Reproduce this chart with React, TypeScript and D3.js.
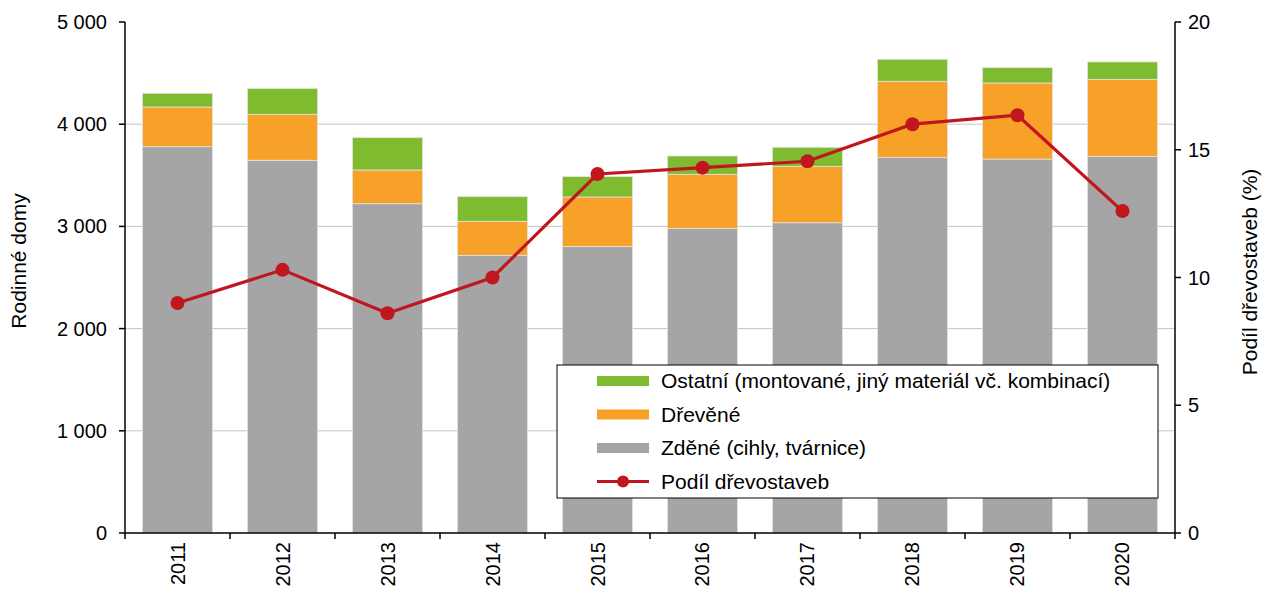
import React from "react";
import * as d3 from "d3";

const years = ["2011", "2012", "2013", "2014", "2015", "2016", "2017", "2018", "2019", "2020"];
const zdene = [3780, 3647, 3222, 2717, 2802, 2981, 3036, 3676, 3659, 3686];
const drevene = [388, 450, 330, 333, 486, 529, 552, 744, 744, 753];
const ostatni = [134, 251, 316, 241, 199, 179, 186, 215, 150, 170];
const podil = [9.0, 10.3, 8.6, 10.0, 14.05, 14.3, 14.55, 16.0, 16.35, 12.6];
const leftTicks = [0, 1000, 2000, 3000, 4000, 5000];
const rightTicks = [0, 5, 10, 15, 20];

const seriesKeys = ["zdene", "drevene", "ostatni"];
const colors: Record<string, string> = {
  zdene: "#a5a5a5",
  drevene: "#f8a128",
  ostatni: "#7fbb2e"
};
const lineColor = "#c0171f";
const font = "'Liberation Sans', Arial, sans-serif";
const fs = 21;

function App() {
  const w = 1262,
    h = 592,
    margin = { top: 22, bottom: 59, left: 125, right: 87 };
  const width = w - margin.left - margin.right,
    height = h - margin.top - margin.bottom;

  const rows = years.map((y, i) => ({
    year: y,
    zdene: zdene[i],
    drevene: drevene[i],
    ostatni: ostatni[i]
  }));

  const stacked = d3.stack<any>().keys(seriesKeys)(rows);

  const xScale = d3.scaleBand().domain(years).range([0, width]).paddingInner(0.333).paddingOuter(0.1667);
  const yScale = d3.scaleLinear().domain([0, 5000]).range([height, 0]);
  const y2Scale = d3.scaleLinear().domain([0, 20]).range([height, 0]);

  const cx = (i: number) => (xScale(years[i]) as number) + xScale.bandwidth() / 2;

  const line = d3
    .line<number>()
    .x((d, i) => cx(i))
    .y(d => y2Scale(d));

  const fmt = (v: number) => d3.format(",")(v).replace(/,/g, " ");

  const step = xScale.step();

  const legendItems = [
    { key: "ostatni", label: "Ostatní (montované, jiný materiál vč. kombinací)" },
    { key: "drevene", label: "Dřevěné" },
    { key: "zdene", label: "Zděné (cihly, tvárnice)" },
    { key: "line", label: "Podíl dřevostaveb" }
  ];

  return (
    <div style={{ position: "absolute", left: 0, top: 0 }}>
      <svg width={w} height={h} style={{ display: "block", fontFamily: font }}>
        <g transform={`translate(${margin.left},${margin.top})`}>
          {leftTicks.slice(1, -1).map(t => (
            <line key={t} x1={0} x2={width} y1={yScale(t)} y2={yScale(t)} stroke="#c6c6c6" strokeWidth={1} />
          ))}

          {stacked.map(s => (
            <g key={s.key}>
              {s.map((d, i) => (
                <rect
                  key={i}
                  x={xScale(years[i])}
                  y={yScale(d[1])}
                  width={xScale.bandwidth()}
                  height={yScale(d[0]) - yScale(d[1])}
                  fill={colors[s.key]}
                  stroke="#e2e2e2"
                  strokeWidth={0.8}
                />
              ))}
            </g>
          ))}

          <path d={line(podil) || ""} fill="none" stroke={lineColor} strokeWidth={3.2} />
          {podil.map((v, i) => (
            <circle key={i} cx={cx(i)} cy={y2Scale(v)} r={7} fill={lineColor} />
          ))}

          {/* axes */}
          <line x1={0} x2={0} y1={0} y2={height} stroke="#000" strokeWidth={1.5} />
          <line x1={width} x2={width} y1={0} y2={height} stroke="#000" strokeWidth={1.5} />
          <line x1={0} x2={width} y1={height} y2={height} stroke="#000" strokeWidth={1.5} />

          {leftTicks.map(t => (
            <g key={t}>
              <line x1={-6} x2={0} y1={yScale(t)} y2={yScale(t)} stroke="#000" strokeWidth={1.5} />
              <text x={-18} y={yScale(t)} dy="0.35em" textAnchor="end" fontSize={20} fill="#000">
                {fmt(t)}
              </text>
            </g>
          ))}
          {rightTicks.map(t => (
            <g key={t}>
              <line x1={width} x2={width + 6} y1={y2Scale(t)} y2={y2Scale(t)} stroke="#000" strokeWidth={1.5} />
              <text x={width + 13} y={y2Scale(t)} dy="0.35em" textAnchor="start" fontSize={20} fill="#000">
                {t}
              </text>
            </g>
          ))}

          {years.map(y => (
            <line
              key={y}
              x1={(xScale(y) as number) - (step - xScale.bandwidth()) / 2}
              x2={(xScale(y) as number) - (step - xScale.bandwidth()) / 2}
              y1={height}
              y2={height + 6}
              stroke="#000"
              strokeWidth={1.5}
            />
          ))}
          <line x1={width} x2={width} y1={height} y2={height + 6} stroke="#000" strokeWidth={1.5} />

          {years.map(y => (
            <text
              key={y}
              transform={`translate(${(xScale(y) as number) + xScale.bandwidth() / 2},${height + 9}) rotate(-90)`}
              dy="0.35em"
              textAnchor="end"
              fontSize={20}
              fill="#000"
            >
              {y}
            </text>
          ))}
        </g>

        <text transform="translate(26,261) rotate(-90)" textAnchor="middle" fontSize={fs}>
          Rodinné domy
        </text>
        <text transform="translate(1257,272) rotate(-90)" textAnchor="middle" fontSize={fs}>
          Podíl dřevostaveb (%)
        </text>

        {/* legend */}
        <g transform="translate(557,365)">
          <rect x={0} y={0} width={601} height={133} fill="#fff" stroke="#000" strokeWidth={1} />
          {legendItems.map((item, i) => {
            const cy = 16 + i * 33.5;
            return (
              <g key={item.key} transform={`translate(0,${cy})`}>
                {item.key === "line" ? (
                  <g>
                    <line x1={40} x2={92} y1={0} y2={0} stroke={lineColor} strokeWidth={3.2} />
                    <circle cx={66} cy={0} r={6} fill={lineColor} />
                  </g>
                ) : (
                  <rect x={40} y={-5} width={52} height={10} fill={colors[item.key]} />
                )}
                <text x={104} y={0} dy="0.35em" fontSize={fs} fill="#000">
                  {item.label}
                </text>
              </g>
            );
          })}
        </g>
      </svg>
    </div>
  );
}

export default App;
